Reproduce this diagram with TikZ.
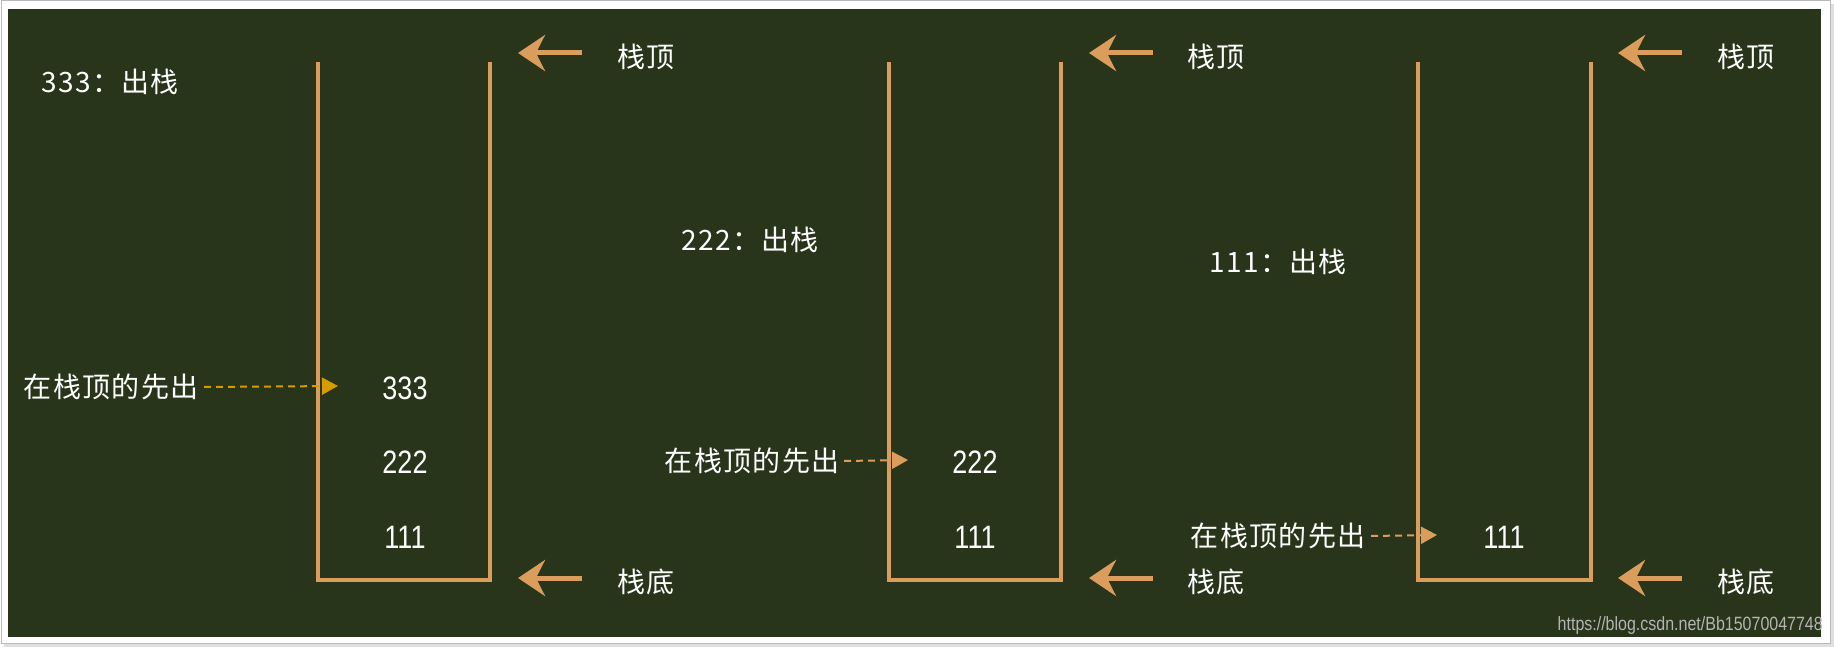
\documentclass[tikz,border=0pt]{standalone}
\usepackage{fontspec}
\setmainfont{Liberation Sans}
\newfontfamily\cjk[LetterSpace=5]{Noto Sans CJK SC}
\usetikzlibrary{arrows.meta}
\definecolor{bg}{HTML}{28351A}
\definecolor{org}{HTML}{DA9D5C}
\definecolor{gold}{HTML}{D79B00}
\definecolor{wm}{HTML}{B4B4B4}
\newcommand\talltext[1]{\scalebox{1}[1.2]{#1}}
\begin{document}
\begin{tikzpicture}[x=1pt,y=-1pt,
  wall/.style={draw=org,line width=4pt,line cap=rect},
  bigarrow/.style={draw=org,line width=5pt,-{Stealth[length=27pt,width=36pt,inset=9pt]}},
  lbl/.style={text=white,font=\cjk\fontsize{28}{30}\selectfont,inner sep=0pt},
  num/.style={text=white,font=\fontsize{27}{30}\selectfont,inner sep=0pt},
  ptr/.style={draw=org,line width=2pt,dash pattern=on 7pt off 5pt,-{Triangle[length=16pt,width=17pt]}}]
\useasboundingbox (0,0) rectangle (1834,647);
% frame
\fill[gray!25] (4,4) rectangle (1834,647);
\draw[gray!55,fill=white,line width=1pt] (1,1) rectangle (1830,643);
\fill[bg] (8,9) rectangle (1821,637);
\begin{scope}
\clip (8,9) rectangle (1821,637);
\node[anchor=south east,text=wm,font=\fontsize{16}{18}\selectfont,inner sep=0pt] (wmk) at (1823,635) {\talltext{https://blog.csdn.net/Bb15070047748}};
\end{scope}
% stacks
\foreach \n/\l/\r in {1/318/490, 2/889/1061, 3/1418/1591}{
  \coordinate (s\n tl) at (\l,64);
  \coordinate (s\n bl) at (\l,580);
  \coordinate (s\n br) at (\r,580);
  \coordinate (s\n tr) at (\r,64);
  \draw[wall] (s\n tl) -- (s\n bl) -- (s\n br) -- (s\n tr);
}
% top / bottom arrows and labels
\foreach \n/\a/\t in {1/582/646, 2/1153/1216, 3/1682/1746}{
  \coordinate (ta\n s) at (\a,53);
  \coordinate (ta\n e) at (\a-64,53);
  \draw[bigarrow] (ta\n s) -- (ta\n e);
  \node[lbl] (top\n) at (\t,57) {栈顶};
  \coordinate (ba\n s) at (\a,578);
  \coordinate (ba\n e) at (\a-64,578);
  \draw[bigarrow] (ba\n s) -- (ba\n e);
  \node[lbl] (bot\n) at (\t,582) {栈底};
}
% pop captions
\node[lbl,anchor=west] (pop1) at (41,82) {333：出栈};
\node[lbl,anchor=west] (pop2) at (681,240) {222：出栈};
\node[lbl,anchor=west] (pop3) at (1209,262) {111：出栈};
% numbers
\node[num] (a333) at (405,388) {\talltext{333}};
\node[num] (a222) at (405,462) {\talltext{222}};
\node[num] (a111) at (405,537) {\talltext{111}};
\node[num] (b222) at (975,462) {\talltext{222}};
\node[num] (b111) at (975,537) {\talltext{111}};
\node[num] (c111) at (1504,537) {\talltext{111}};
% pointers
\node[lbl,anchor=east] (p1) at (199,387) {在栈顶的先出};
\node[lbl,anchor=east] (p2) at (840,461) {在栈顶的先出};
\node[lbl,anchor=east] (p3) at (1366,536) {在栈顶的先出};
\coordinate (q1) at (338,386);
\coordinate (q2) at (908,460);
\coordinate (q3) at (1437,535);
\draw[ptr,draw=gold] (p1.east) ++(5,0) -- (q1);
\draw[ptr] (p2.east) ++(4,0) -- (q2);
\draw[ptr] (p3.east) ++(5,0) -- (q3);
\end{tikzpicture}
\end{document}
